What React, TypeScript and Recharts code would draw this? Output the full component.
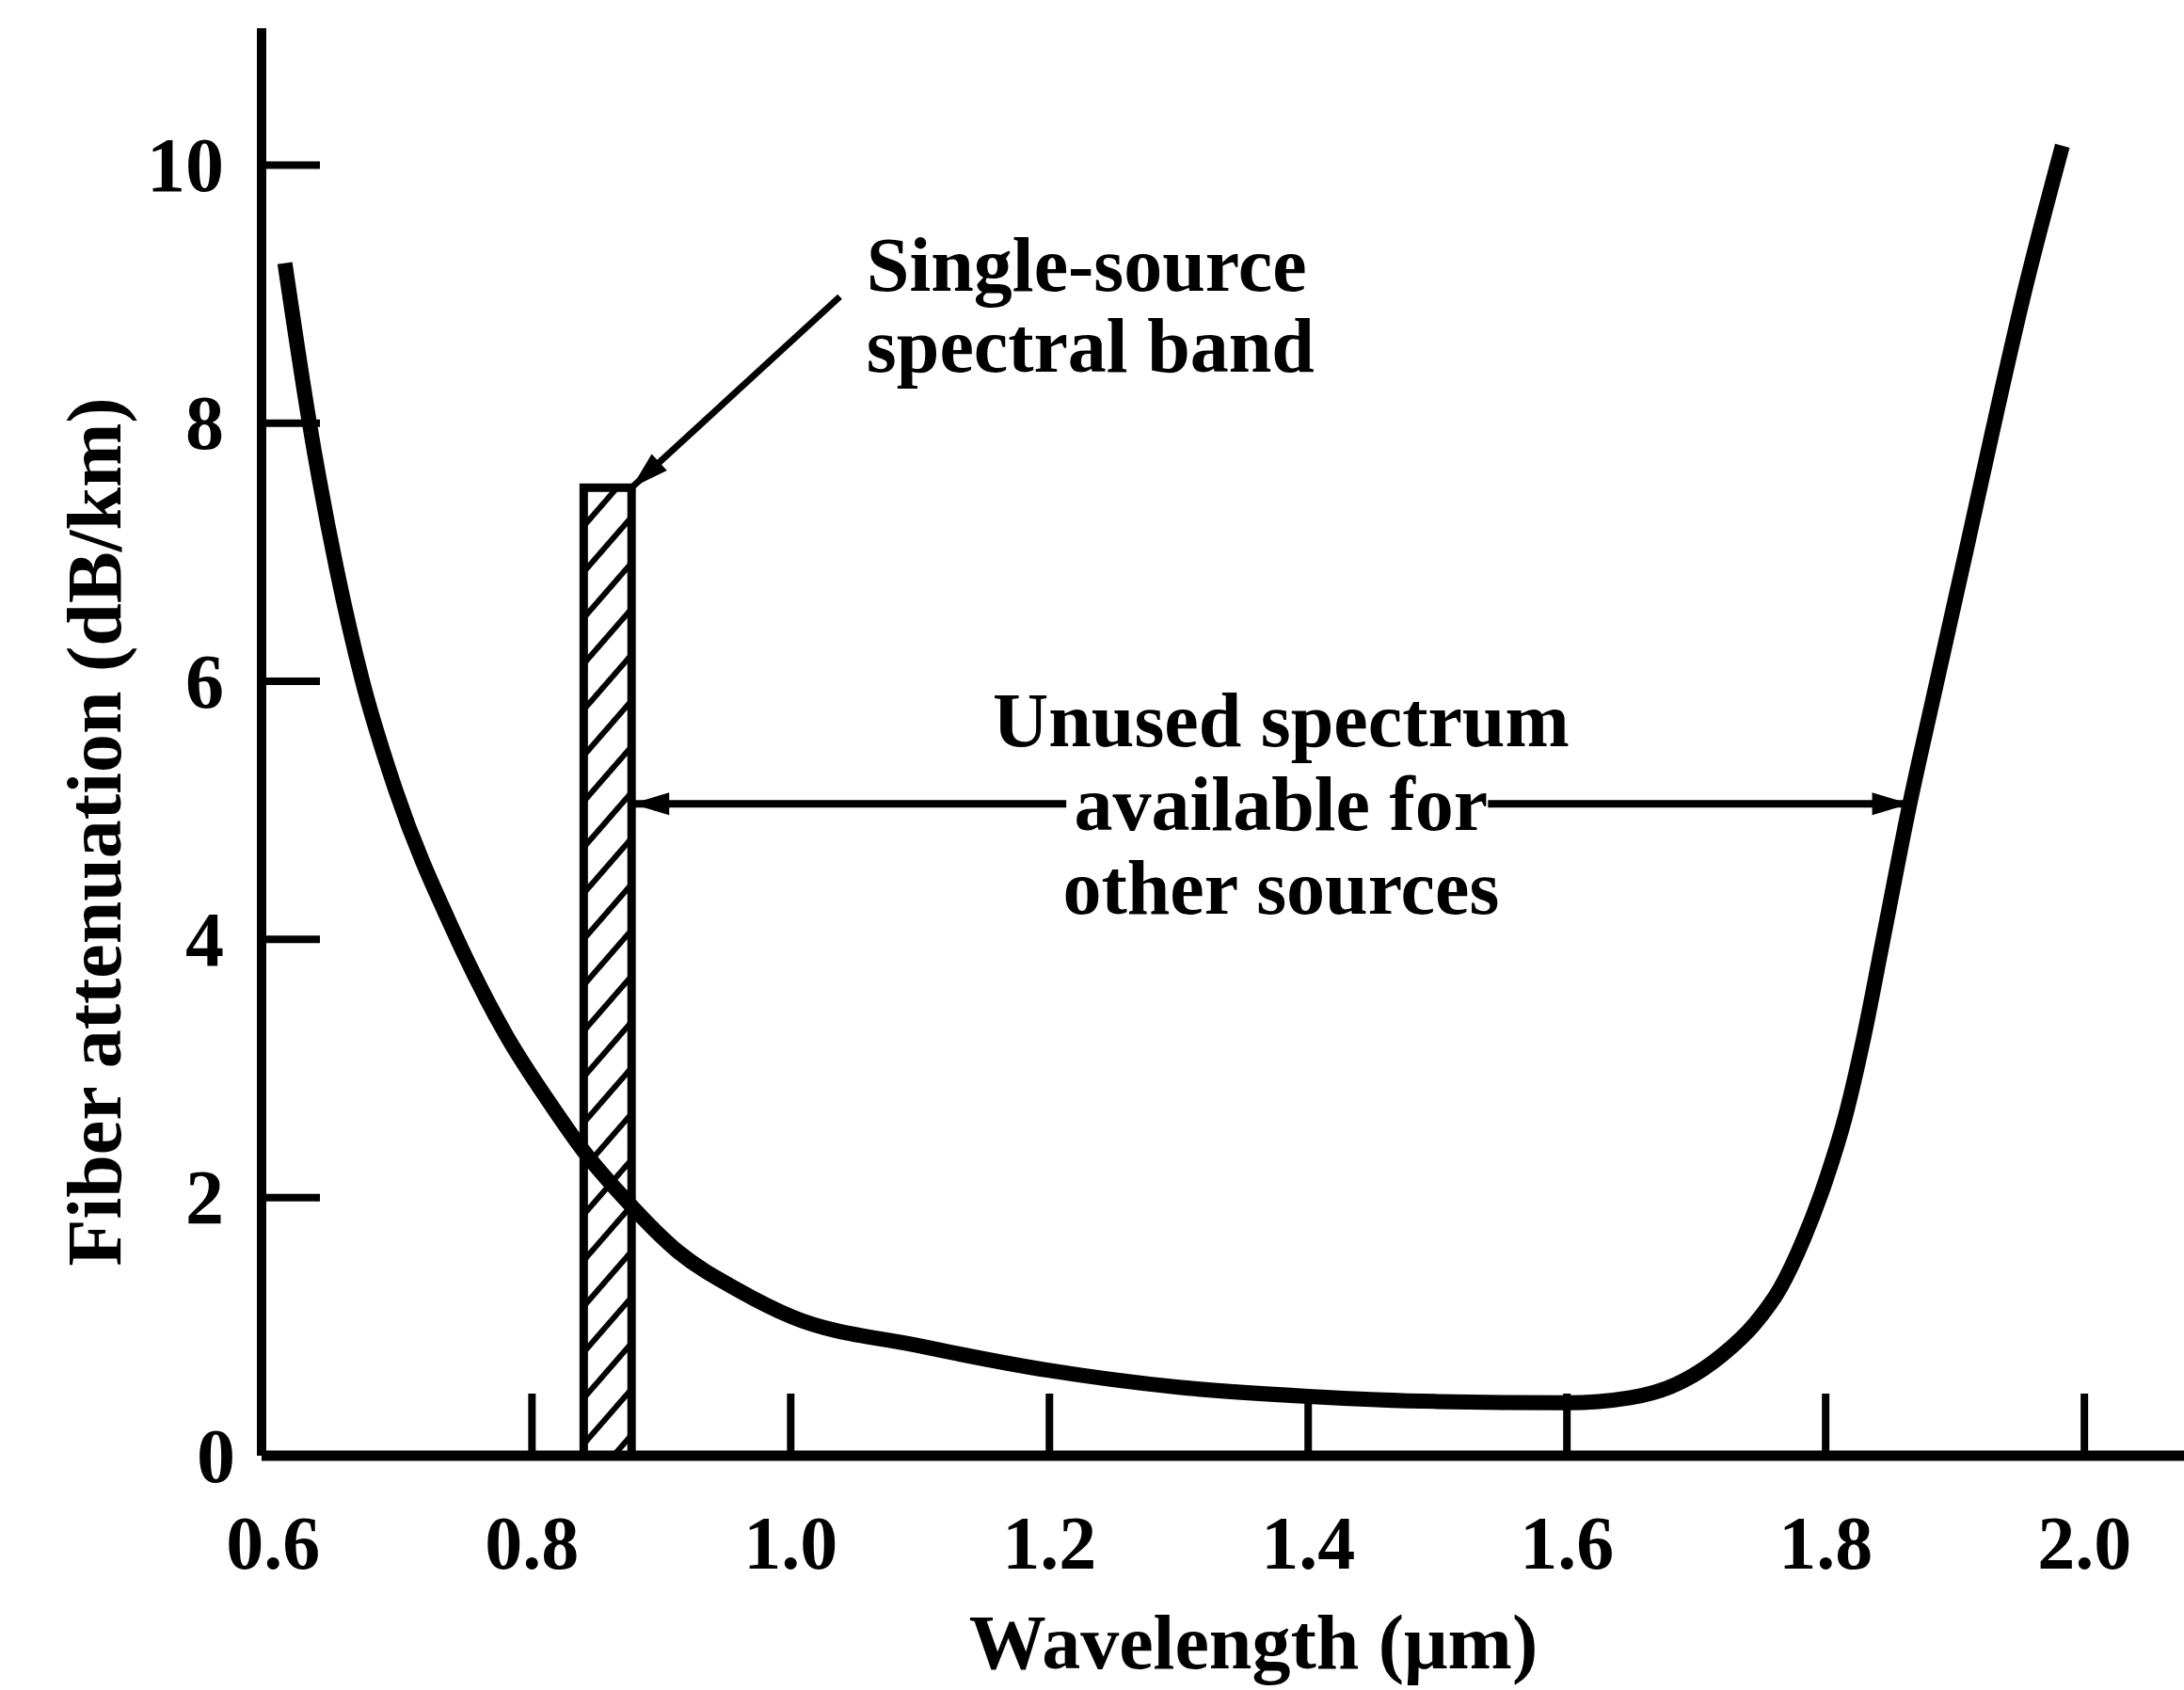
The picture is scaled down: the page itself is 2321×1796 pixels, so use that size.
import React from 'react';
import { LineChart, Line, XAxis, YAxis, ReferenceArea, ReferenceLine, ReferenceDot } from 'recharts';

// Fiber attenuation curve
const wavelengthUm = [0.609, 0.628, 0.649, 0.669, 0.6945, 0.74, 0.78, 0.816, 0.84, 0.869, 0.913, 0.96, 1.0, 1.1, 1.2, 1.3, 1.4, 1.5, 1.6, 1.649, 1.69, 1.72, 1.745, 1.765, 1.783, 1.8, 1.815, 1.829, 1.844, 1.865, 1.882, 1.909, 1.929, 1.953, 1.983];
const attenuationDbKm = [9.24, 8.0, 6.87, 6.0, 5.16, 4.05, 3.26, 2.7, 2.36, 2.02, 1.58, 1.28, 1.08, 0.85, 0.66, 0.53, 0.46, 0.42, 0.41, 0.45, 0.58, 0.78, 1.02, 1.3, 1.68, 2.13, 2.62, 3.22, 3.98, 5.05, 5.82, 7.03, 7.94, 8.99, 10.15];

const xTickValues = [0.6, 0.8, 1.0, 1.2, 1.4, 1.6, 1.8, 2.0];
const xTickLabels = ['0.6', '0.8', '1.0', '1.2', '1.4', '1.6', '1.8', '2.0'];
const yTickValues = [0, 2, 4, 6, 8, 10];
const yTickLabels = ['0', '2', '4', '6', '8', '10'];

const xDomain = [0.591, 2.077];
const yDomain = [0, 11.06];

// Annotations (data coordinates)
const sourceBand = [0.84, 0.877];
const sourceBandTop = 7.5;
const pointerFrom = { x: 1.038, y: 8.98 };
const pointerTo = { x: 0.877, y: 7.5 };
const unusedY = 5.05;
const unusedLeft = [0.877, 1.213];
const unusedRight = [1.539, 1.865];
const bandLabelAt = { x: 1.0586, y: 8.91 };
const unusedLabelAt = { x: 1.379, y: 5.05 };

const bandLabelLines = ['Single-source', 'spectral band'];
const unusedLabelLines = ['Unused spectrum', 'available for', 'other sources'];

const data = wavelengthUm.map((w, i) => ({ x: w, y: attenuationDbKm[i] }));

const FONT = '"Liberation Serif", "DejaVu Serif", serif';
const INK = '#000';

const XTick = (props: any) => {
  const { x, y, payload } = props;
  const idx = xTickValues.findIndex((v) => Math.abs(v - payload.value) < 1e-6);
  return (
    <g>
      {payload.value > 0.65 && (
        <line x1={x} x2={x} y1={y} y2={y - 66} stroke={INK} strokeWidth={8} />
      )}
      <text x={x} y={y + 93} textAnchor="middle" dominantBaseline="central" fontFamily={FONT} fontWeight="bold" fontSize={80} fill={INK}>
        {xTickLabels[idx]}
      </text>
    </g>
  );
};

const YTick = (props: any) => {
  const { x, y, payload } = props;
  const idx = yTickValues.findIndex((v) => Math.abs(v - payload.value) < 1e-6);
  const isZero = payload.value < 0.5;
  return (
    <g>
      {!isZero && (
        <line x1={x} x2={x + 62} y1={y} y2={y} stroke={INK} strokeWidth={8} />
      )}
      <text x={x - (isZero ? 28 : 40)} y={y} textAnchor="end" dominantBaseline="central" fontFamily={FONT} fontWeight="bold" fontSize={82} fill={INK}>
        {yTickLabels[idx]}
      </text>
    </g>
  );
};

const arrowHead = (tx: number, ty: number, fx: number, fy: number, len: number, half: number) => {
  const dx = tx - fx;
  const dy = ty - fy;
  const d = Math.sqrt(dx * dx + dy * dy) || 1;
  const ux = dx / d;
  const uy = dy / d;
  const bx = tx - ux * len;
  const by = ty - uy * len;
  const px = -uy * half;
  const py = ux * half;
  return `${tx},${ty} ${bx + px},${by + py} ${bx - px},${by - py}`;
};

const ArrowShape = (width: number) => (p: any) => {
  const { x1, y1, x2, y2 } = p;
  return (
    <g>
      <line x1={x1} y1={y1} x2={x2} y2={y2} stroke={INK} strokeWidth={width} />
      <polygon points={arrowHead(x2, y2, x1, y1, 40, 12)} fill={INK} />
    </g>
  );
};

const BandShape = (p: any) => {
  const { x, y, width, height } = p;
  return (
    <g>
      <defs>
        <pattern id="hatch" patternUnits="userSpaceOnUse" width={12} height={32} patternTransform="rotate(-49)">
          <line x1={-2} y1={3} x2={14} y2={3} stroke={INK} strokeWidth={6} />
        </pattern>
      </defs>
      <rect x={x} y={y} width={width} height={height} fill="url(#hatch)" stroke={INK} strokeWidth={9} />
    </g>
  );
};

const textStyle = { fontFamily: FONT, fontWeight: 'bold' as const, fontSize: 82, fill: INK };

const BandLabel = (p: any) => (
  <g>
    {bandLabelLines.map((t, i) => (
      <text key={t} x={p.cx} y={p.cy - 43 + i * 86} dominantBaseline="central" textAnchor="start" {...textStyle}>
        {t}
      </text>
    ))}
  </g>
);

const UnusedLabel = (p: any) => (
  <g>
    {unusedLabelLines.map((t, i) => (
      <text key={t} x={p.cx} y={p.cy + (i - 1) * 89} dominantBaseline="central" textAnchor="middle" {...textStyle}>
        {t}
      </text>
    ))}
  </g>
);

const XTitle = (p: any) => {
  const vb = p.viewBox;
  return (
    <text x={vb.x + 1054} y={vb.y + 198} textAnchor="middle" dominantBaseline="central" {...textStyle}>
      Wavelength (μm)
    </text>
  );
};

const YTitle = (p: any) => {
  const vb = p.viewBox;
  const cx = 100;
  const cy = vb.y + 854;
  return (
    <text x={cx} y={cy} textAnchor="middle" dominantBaseline="central" transform={`rotate(-90 ${cx} ${cy})`} {...textStyle}>
      Fiber attenuation (dB/km)
    </text>
  );
};

export default function App() {
  return (
    <div style={{ position: 'absolute', left: 0, top: 0, width: 2321, height: 1796, background: '#fff' }}>
      <LineChart width={2321} height={1796} data={data} margin={{ top: 30, right: 0, bottom: 0, left: 0 }}>
        <XAxis
          dataKey="x"
          type="number"
          domain={xDomain}
          ticks={xTickValues}
          allowDataOverflow
          height={249}
          tickSize={0}
          tickMargin={0}
          tickLine={false}
          axisLine={{ stroke: INK, strokeWidth: 11 }}
          tick={<XTick />}
          interval={0}
          label={{ content: <XTitle /> }}
        />
        <YAxis
          type="number"
          domain={yDomain}
          ticks={yTickValues}
          allowDataOverflow
          width={278}
          tickSize={0}
          tickMargin={0}
          tickLine={false}
          axisLine={{ stroke: INK, strokeWidth: 10 }}
          tick={<YTick />}
          interval={0}
          label={{ content: <YTitle /> }}
        />
        <ReferenceArea x1={sourceBand[0]} x2={sourceBand[1]} y1={0} y2={sourceBandTop} shape={BandShape} />
        <Line type="monotone" dataKey="y" stroke={INK} strokeWidth={16} dot={false} isAnimationActive={false} />
        <ReferenceLine segment={[pointerFrom, pointerTo]} shape={ArrowShape(7)} />
        <ReferenceLine segment={[{ x: unusedLeft[1], y: unusedY }, { x: unusedLeft[0], y: unusedY }]} shape={ArrowShape(8)} />
        <ReferenceLine segment={[{ x: unusedRight[0], y: unusedY }, { x: unusedRight[1], y: unusedY }]} shape={ArrowShape(8)} />
        <ReferenceDot x={bandLabelAt.x} y={bandLabelAt.y} r={0} shape={BandLabel} />
        <ReferenceDot x={unusedLabelAt.x} y={unusedLabelAt.y} r={0} shape={UnusedLabel} />
      </LineChart>
    </div>
  );
}
